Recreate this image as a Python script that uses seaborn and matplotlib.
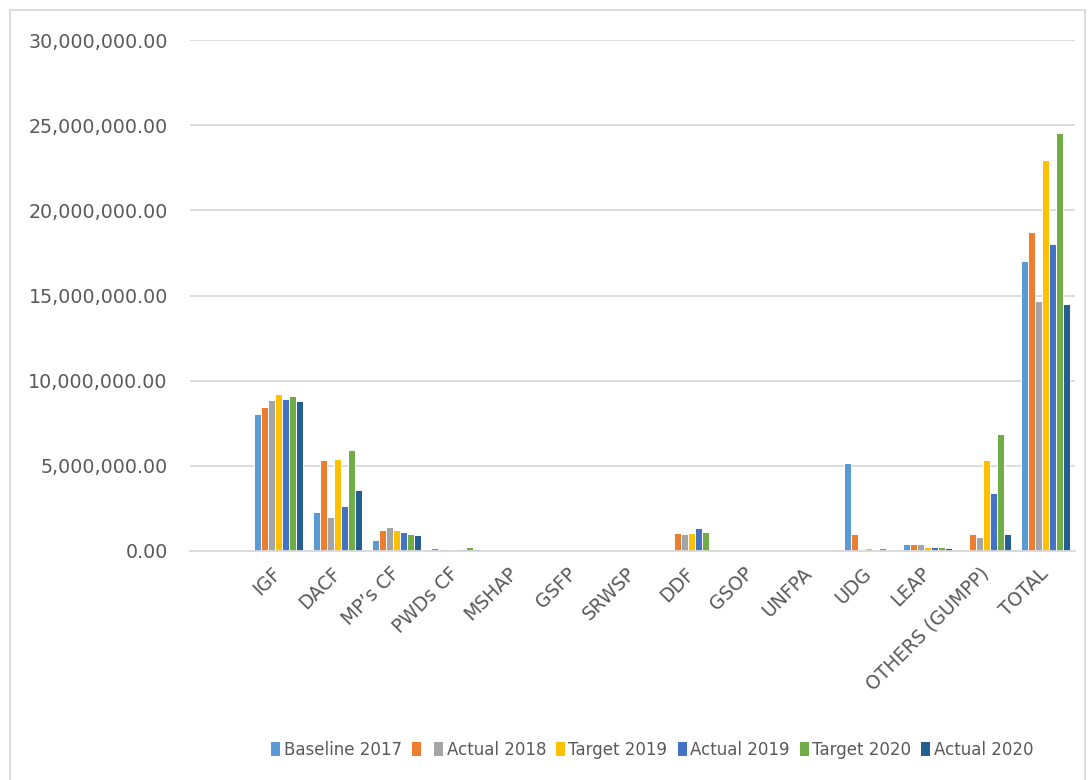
import pandas as pd
import matplotlib.pyplot as plt
import matplotlib.ticker as mticker
from matplotlib.patches import Rectangle, Patch
import seaborn as sns

# Categorias e séries
categorias = ["IGF", "DACF", "MP\u2019s CF", "PWDs CF", "MSHAP", "GSFP", "SRWSP",
              "DDF", "GSOP", "UNFPA", "UDG", "LEAP", "OTHERS (GUMPP)", "TOTAL"]
series = ["Baseline 2017", "", "Actual 2018", "Target 2019", "Actual 2019", "Target 2020", "Actual 2020"]
cores = ["#5B9BD5", "#ED7D31", "#A5A5A5", "#FFC000", "#4472C4", "#70AD47", "#255E91"]

# Valores (milhões)
baseline_2017 = [8.06, 2.29, 0.65, 0.20, 0, 0, 0, 0, 0, 0, 5.17, 0.43, 0, 17.00]
serie_laranja = [8.44, 5.34, 1.21, 0.14, 0, 0, 0, 1.04, 0, 0, 0.98, 0.39, 0.98, 18.72]
actual_2018 = [8.85, 2.00, 1.43, 0, 0, 0, 0, 0.98, 0, 0, 0, 0.39, 0.82, 14.68]
target_2019 = [9.22, 5.38, 1.21, 0.14, 0, 0, 0, 1.04, 0, 0, 0.18, 0.23, 5.32, 22.93]
actual_2019 = [8.94, 2.66, 1.13, 0.14, 0, 0, 0, 1.37, 0, 0, 0, 0.23, 3.40, 18.05]
target_2020 = [9.10, 5.93, 0.98, 0.23, 0, 0, 0, 1.12, 0, 0, 0.18, 0.23, 6.87, 24.56]
actual_2020 = [8.79, 3.56, 0.94, 0.14, 0, 0, 0, 0, 0, 0, 0, 0.18, 1.02, 14.50]

valores = [baseline_2017, serie_laranja, actual_2018, target_2019, actual_2019, target_2020, actual_2020]

# chaves internas únicas para o hue (a série laranja não tem nome no original)
chaves = [f"s{i}" for i in range(len(series))]

linhas = []
for chave, vals in zip(chaves, valores):
    for cat, v in zip(categorias, vals):
        linhas.append({"categoria": cat, "serie": chave, "valor": v * 1e6})
df = pd.DataFrame(linhas)

sns.set_theme(style="white")
plt.rcParams['font.family'] = ['DejaVu Sans']

fig = plt.figure(figsize=(10.88, 7.8), dpi=100)
ax = fig.add_axes([190 / 1088, 1 - 551 / 780, (1075 - 190) / 1088, (551 - 40) / 780])

sns.barplot(data=df, x="categoria", y="valor", hue="serie", order=categorias,
            hue_order=chaves, palette=cores, saturation=1, width=0.82,
            edgecolor="white", linewidth=0.7, ax=ax, legend=False)

ax.set_xlim(-1.5, len(categorias) - 0.5)
ax.set_ylim(0, 30e6)
ax.set_yticks([0, 5e6, 10e6, 15e6, 20e6, 25e6, 30e6])
ax.yaxis.set_major_formatter(mticker.FuncFormatter(lambda v, p: f"{v:,.2f}"))
ax.grid(True, axis="y", color="#D9D9D9", linewidth=1.3)
ax.set_axisbelow(True)
for lado in ["top", "right", "left"]:
    ax.spines[lado].set_visible(False)
ax.spines["bottom"].set_color("#D9D9D9")
ax.spines["bottom"].set_linewidth(1.3)
ax.set_xlabel("")
ax.set_ylabel("")
ax.tick_params(axis="y", length=0, labelsize=13.7, labelcolor="#595959", pad=16)
ax.tick_params(axis="x", length=0, labelsize=13.5, labelcolor="#595959", pad=14)
plt.setp(ax.get_xticklabels(), rotation=45, ha="right", va="center", rotation_mode="anchor")

handles = [Patch(facecolor=c, edgecolor="none") for c in cores]
fig.legend(handles, series, loc="center", bbox_to_anchor=(652 / 1088, 1 - 750 / 780),
           ncol=7, frameon=False, fontsize=12,
           handlelength=0.55, handleheight=0.9, handletextpad=0.2, columnspacing=0.6,
           labelcolor="#595959")

# Borda do gráfico
fig.patches.append(Rectangle((10 / 1088, -0.01), 1075 / 1088, 1 - 10 / 780 + 0.01,
                             transform=fig.transFigure, fill=False,
                             edgecolor="#D9D9D9", linewidth=1.3))

fig.savefig("out.png", dpi=100)
plt.close()
